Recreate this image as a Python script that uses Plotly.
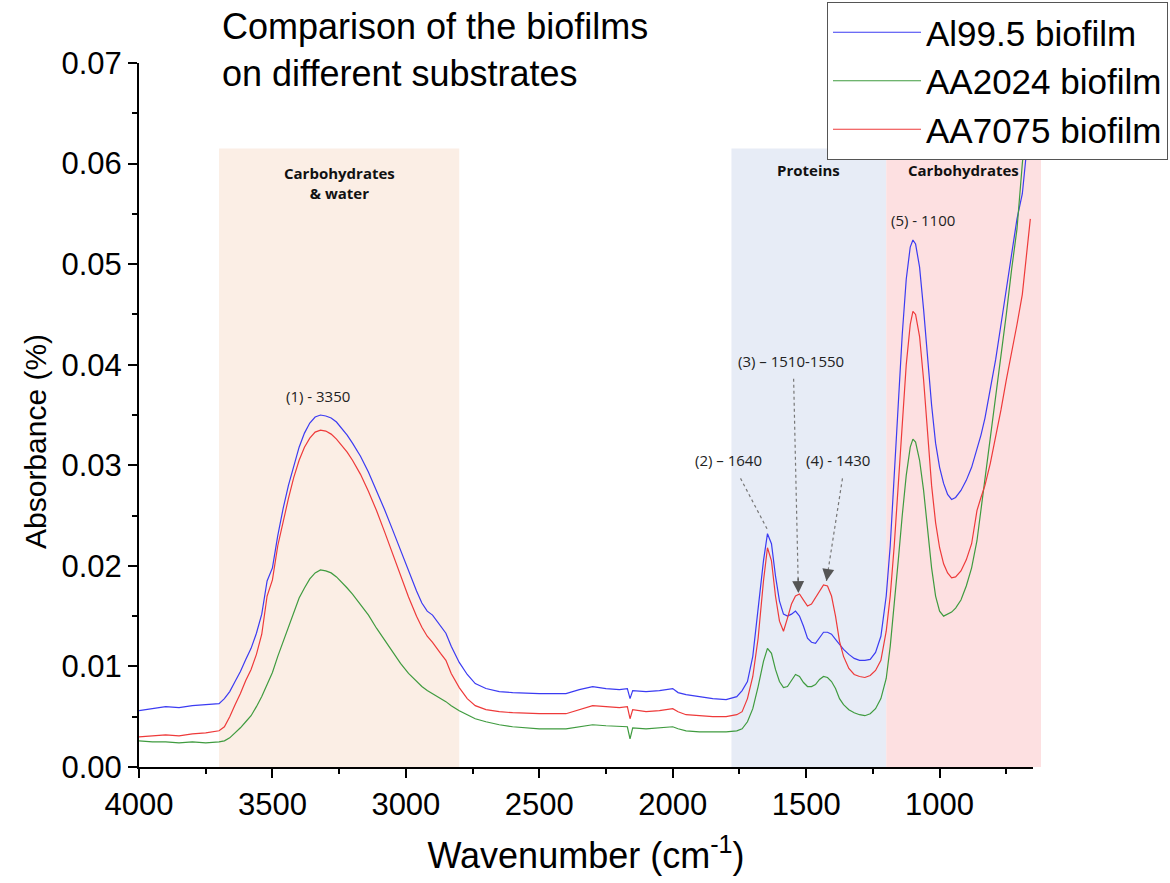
import plotly.graph_objects as go

# ---------------- data ----------------
wavenumber = [4000, 3950, 3900, 3850, 3800, 3750, 3700, 3680, 3660, 3640, 3620, 3600, 3580, 3560,
              3540, 3520, 3500, 3480, 3460, 3440, 3420, 3400, 3380, 3360, 3340, 3320, 3300, 3280,
              3260, 3240, 3220, 3200, 3170, 3140, 3110, 3080, 3050, 3020, 2990, 2960, 2940, 2920,
              2900, 2870, 2850, 2830, 2800, 2770, 2740, 2700, 2650, 2600, 2500, 2400, 2350, 2300,
              2250, 2200, 2170, 2160, 2150, 2100, 2050, 2000, 1980, 1950, 1900, 1850, 1800, 1760,
              1740, 1720, 1700, 1680, 1660, 1645, 1630, 1615, 1600, 1585, 1570, 1555, 1540, 1525,
              1510, 1495, 1480, 1465, 1450, 1435, 1420, 1405, 1390, 1375, 1360, 1340, 1320, 1300,
              1280, 1260, 1240, 1220, 1200, 1185, 1170, 1155, 1140, 1125, 1110, 1100, 1090, 1075,
              1060, 1045, 1030, 1015, 1000, 985, 970, 955, 940, 920, 900, 880, 860, 845, 830, 810,
              790, 770, 750, 730, 710, 690, 675, 660]

al995 = [.0056, .0058, .0060, .0059, .0061, .0062, .0063, .0068, .0075, .0085, .0095, .0107, .0118, .0133,
         .0152, .0185, .0198, .0230, .0257, .0280, .0300, .0318, .0332, .0342, .0348, .0350, .0349, .0347,
         .0343, .0337, .0330, .0322, .0309, .0293, .0275, .0256, .0236, .0215, .0195, .0175, .0163, .0155,
         .0151, .0140, .0133, .0120, .0104, .0092, .0083, .0078, .0075, .0074, .0073, .0073, .0077, .0080,
         .0078, .0077, .0078, .0068, .0076, .0075, .0076, .0078, .0074, .0072, .0070, .0068, .0067, .0070,
         .0076, .0085, .0110, .0155, .0205, .0232, .0222, .0190, .0165, .0152, .0150, .0152, .0155, .0150,
         .0140, .0128, .0124, .0123, .0128, .0134, .0134, .0132, .0127, .0122, .0117, .0112, .0108, .0106,
         .0106, .0107, .0114, .0130, .0170, .0220, .0285, .0360, .0430, .0485, .0517, .0524, .0520, .0497,
         .0455, .0405, .0360, .0322, .0298, .0282, .0271, .0266, .0268, .0275, .0285, .0298, .0315, .0330,
         .0347, .0375, .0405, .0440, .0475, .0510, .0545, .0570, .0610, .0660]

aa2024 = [.0026, .0025, .0025, .0024, .0025, .0024, .0025, .0026, .0029, .0034, .0039, .0045, .0051, .0060,
          .0070, .0082, .0094, .0110, .0125, .0140, .0155, .0168, .0178, .0187, .0193, .0196, .0195, .0193,
          .0189, .0184, .0178, .0172, .0162, .0151, .0138, .0126, .0114, .0103, .0093, .0085, .0080, .0076,
          .0073, .0068, .0065, .0061, .0056, .0052, .0048, .0045, .0042, .0040, .0038, .0038, .0040, .0042,
          .0041, .0040, .0040, .0028, .0039, .0038, .0039, .0040, .0038, .0036, .0035, .0035, .0035, .0036,
          .0038, .0045, .0058, .0080, .0105, .0118, .0113, .0097, .0085, .0079, .0080, .0086, .0092, .0090,
          .0084, .0080, .0080, .0082, .0087, .0090, .0089, .0085, .0078, .0068, .0062, .0057, .0054, .0052,
          .0051, .0053, .0058, .0068, .0088, .0120, .0160, .0205, .0250, .0290, .0318, .0326, .0323, .0305,
          .0275, .0235, .0198, .0170, .0155, .0150, .0152, .0154, .0158, .0166, .0180, .0198, .0225, .0255,
          .0285, .0325, .0365, .0405, .0450, .0495, .0535, .0600, .0640, .0680]

aa7075 = [.0030, .0031, .0032, .0031, .0033, .0034, .0036, .0040, .0050, .0062, .0073, .0086, .0097, .0112,
          .0132, .0170, .0186, .0220, .0244, .0267, .0288, .0305, .0318, .0327, .0333, .0335, .0334, .0331,
          .0326, .0320, .0313, .0305, .0291, .0274, .0255, .0234, .0212, .0190, .0169, .0150, .0139, .0130,
          .0124, .0113, .0106, .0093, .0079, .0068, .0061, .0057, .0055, .0054, .0053, .0053, .0057, .0061,
          .0060, .0059, .0060, .0048, .0057, .0055, .0056, .0058, .0055, .0052, .0051, .0050, .0050, .0052,
          .0055, .0068, .0090, .0128, .0185, .0218, .0205, .0170, .0145, .0135, .0148, .0162, .0170, .0172,
          .0166, .0160, .0162, .0168, .0175, .0181, .0180, .0170, .0150, .0125, .0110, .0098, .0092, .0090,
          .0089, .0091, .0096, .0106, .0135, .0170, .0220, .0280, .0345, .0400, .0440, .0453, .0450, .0428,
          .0385, .0330, .0280, .0243, .0218, .0202, .0193, .0188, .0189, .0195, .0206, .0222, .0255, .0268,
          .0280, .0302, .0328, .0355, .0385, .0412, .0440, .0470, .0505, .0545]

series_names = ["Al99.5 biofilm", "AA2024 biofilm", "AA7075 biofilm"]
series_colors = ["#3b3bf2", "#3f9b3f", "#ee3a3a"]

# shaded spectral regions: (start, end), label, label height
region_bounds = [(3700, 2800), (1780, 1200), (1200, 620)]
region_labels = ["Carbohydrates<br>& water", "Proteins", "Carbohydrates"]
region_label_y = [0.0581, 0.0594, 0.0594]
region_colors = ["#fbeee5", "#e7ecf6", "#fde0e1"]
region_top = 0.0615

# peak annotations: (text, wavenumber, absorbance)
peak_labels = [("(1) - 3350", 3329, 0.0369), ("(2) – 1640", 1790, 0.0305),
               ("(3) – 1510-1550", 1555, 0.0404), ("(4) - 1430", 1379, 0.0305),
               ("(5) - 1100", 1064, 0.0544)]
# arrows: (start wn, start abs, tip wn, tip abs)
arrows = [(1746, 0.0287, 1645, 0.0236), (1547, 0.0386, 1529, 0.0173), (1364, 0.0287, 1424, 0.0185)]

x_range = [4000, 650]
y_range = [0, 0.07]

fig = go.Figure()

for name, vals, col in zip(series_names, [al995, aa2024, aa7075], series_colors):
    fig.add_trace(go.Scatter(x=wavenumber, y=vals, mode="lines", name=name,
                             line=dict(color=col, width=1.2)))


def to_paper(wn):
    return (x_range[0] - wn) / (x_range[0] - x_range[1])


for (a, b), lab, ly, col in zip(region_bounds, region_labels, region_label_y, region_colors):
    fig.add_shape(type="rect", xref="paper", yref="y", x0=to_paper(a), x1=to_paper(b),
                  y0=0, y1=region_top, fillcolor=col, line=dict(width=0), layer="below")
    fig.add_annotation(x=(a + b) / 2, y=ly, text=f"<b>{lab}</b>",
                       showarrow=False, font=dict(family="Open Sans", size=15, color="#111"))

for txt, x, y in peak_labels:
    fig.add_annotation(x=x, y=y, text=txt, showarrow=False,
                       font=dict(family="Open Sans", size=15, color="#222"))

for x0, y0, x1, y1 in arrows:
    fig.add_shape(type="line", x0=x0, y0=y0, x1=x1, y1=y1, xref="x", yref="y",
                  line=dict(color="#777", width=1.2, dash="dot"))
    fig.add_annotation(x=x1, y=y1, ax=x1 + 0.08 * (x0 - x1), ay=y1 + 0.08 * (y0 - y1),
                       axref="x", ayref="y", text=" ", showarrow=True,
                       arrowhead=2, arrowsize=1.7, arrowwidth=1.4, arrowcolor="#555",
                       font=dict(size=2))

# title as a left-aligned text block above the plot
fig.add_annotation(xref="paper", yref="paper", x=(220 - 139) / 894, y=(767 - 4) / 704,
                   xanchor="left", yanchor="top", align="left", showarrow=False,
                   text="Comparison of the biofilms<br>on different substrates",
                   font=dict(family="Liberation Sans, Arial", size=36, color="black"))

# y-axis title (placed slightly below the plot's centre, as in the reference)
fig.add_annotation(xref="paper", yref="paper", x=-(139 - 35) / 894, y=(767 - 442) / 704,
                   xanchor="center", yanchor="middle", textangle=-90, showarrow=False,
                   text="Absorbance (%)", font=dict(family="Liberation Sans, Arial", size=30, color="black"))

fig.update_layout(
    width=1170, height=883,
    margin=dict(l=139, r=137, t=63, b=116, autoexpand=False),
    paper_bgcolor="white", plot_bgcolor="white",
    font=dict(family="Liberation Sans, Arial", color="black"),
    legend=dict(x=(1168 - 139) / 894, xanchor="right", y=(767 - 2) / 704, yanchor="top",
                bgcolor="white", bordercolor="#555", borderwidth=1,
                font=dict(size=35), itemwidth=88),
    showlegend=True,
)

fig.update_xaxes(range=x_range, dtick=500, tick0=0, showline=True, linecolor="black", linewidth=2,
                 ticks="outside", ticklen=9, tickwidth=2, tickcolor="black",
                 minor=dict(dtick=250, ticks="outside", ticklen=5, tickwidth=2, tickcolor="black"),
                 showgrid=False, zeroline=False, tickfont=dict(size=31),
                 title=dict(text="Wavenumber (cm<sup>-1</sup>)", font=dict(size=36), standoff=22))
fig.update_yaxes(range=y_range, dtick=0.01, tick0=0, tickformat=".2f", showline=True,
                 linecolor="black", linewidth=2, ticks="outside", ticklen=9, tickwidth=2,
                 tickcolor="black",
                 minor=dict(dtick=0.005, ticks="outside", ticklen=5, tickwidth=2, tickcolor="black"),
                 showgrid=False, zeroline=False, tickfont=dict(size=31))

fig.write_html("out.html")
